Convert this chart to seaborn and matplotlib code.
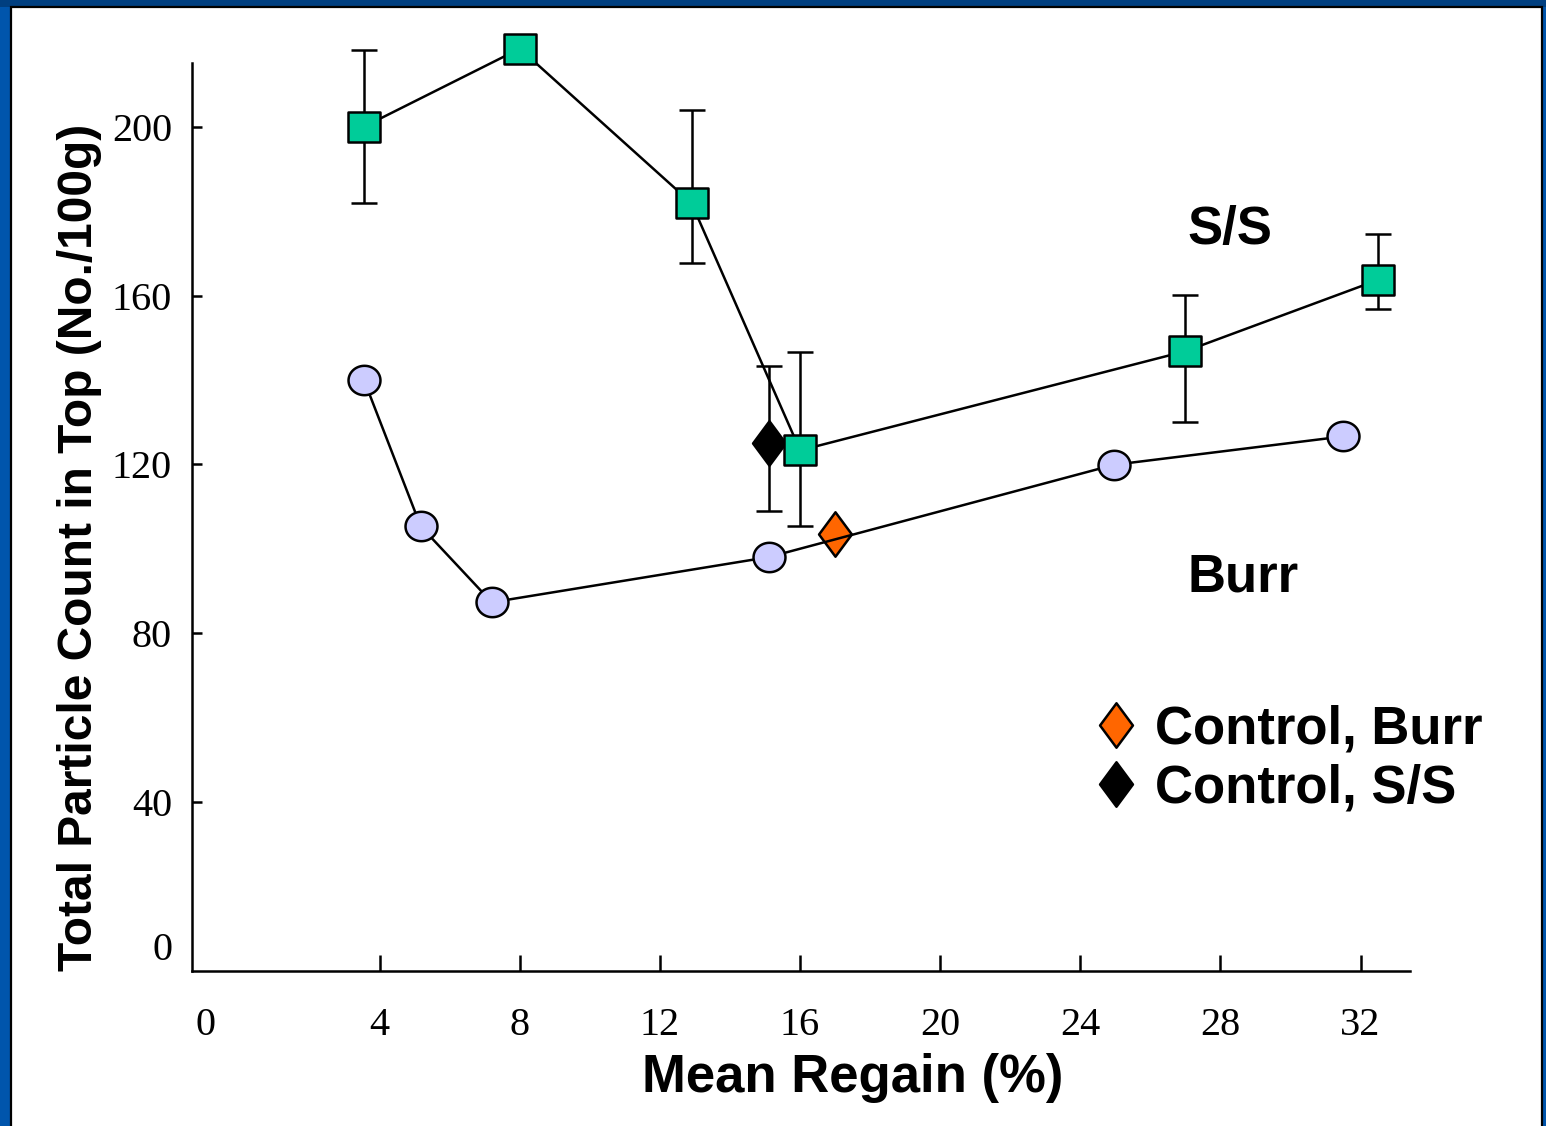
import numpy as np
import pandas as pd
import matplotlib
matplotlib.use("Agg")
import matplotlib.pyplot as plt
import matplotlib.transforms as mtrans
from matplotlib.path import Path
from matplotlib.patches import Rectangle
import seaborn as sns

# ---------------- data ----------------
ss_x = [3.55, 8.0, 12.9, 16.0, 27.0, 32.5]
ss_y = [200.0, 218.5, 181.9, 123.3, 146.8, 163.7]
ss_hi = [218.2, np.nan, 203.9, 146.6, 160.2, 174.6]
ss_lo = [181.9, np.nan, 167.6, 105.5, 130.0, 156.8]

burr_x = [3.55, 5.17, 7.2, 15.1, 24.97, 31.5]
burr_y = [140.0, 105.3, 87.3, 98.0, 119.9, 126.6]

ctrl_labels = ["Control, Burr", "Control, S/S"]
ctrl_x = [17.0, 15.1]
ctrl_y = [103.6, 125.0]
ctrl_hi = [np.nan, 143.4]
ctrl_lo = [np.nan, 109.0]
ctrl_colors = ["#FF6600", "#000000"]

x_ticks = [0, 4, 8, 12, 16, 20, 24, 28, 32]
y_ticks = [0, 40, 80, 120, 160, 200]

series_labels = ["S/S", "Burr"]

# ---------------- styling ----------------
sns.set_theme(style="white")
plt.rcParams["font.family"] = ["Liberation Sans", "DejaVu Sans"]
plt.rcParams["text.color"] = "black"

SQ_COLOR = "#00CC99"
CIRCLE_COLOR = "#CCCCFF"
LW = 1.8

t = np.linspace(0, 2 * np.pi, 73)
ell = np.column_stack([0.5 * np.cos(t), 0.46 * np.sin(t)])
ellipse_marker = Path(np.vstack([ell, ell[:1]]), closed=True)
rect_v = np.array([[-0.5, -0.45], [0.5, -0.45], [0.5, 0.45], [-0.5, 0.45], [-0.5, -0.45]])
rect_marker = Path(rect_v, closed=True)
dia_v = np.array([[0, 0.5], [0.37, 0], [0, -0.5], [-0.37, 0], [0, 0.5]])
diamond_marker = Path(dia_v, closed=True)

W, H = 1546, 1126
fig = plt.figure(figsize=(W / 100, H / 100), dpi=100)
fig.patch.set_facecolor("#0055AC")
fig.add_artist(Rectangle((0, 1119 / H), 1, 7 / H, transform=fig.transFigure,
                         facecolor="#003F80", edgecolor="none", zorder=-2))
fig.add_artist(Rectangle((11 / W, -0.01), (1542 - 11) / W, 1119 / H + 0.01,
                         transform=fig.transFigure, facecolor="white",
                         edgecolor="black", linewidth=1.6, zorder=-1))

ax_left, ax_right = 191.5, 1410.0
ax_top, ax_bot = 63.0, 970.7
ax = fig.add_axes([ax_left / W, (H - ax_bot) / H, (ax_right - ax_left) / W,
                   (ax_bot - ax_top) / H])
ax.set_facecolor("none")

# ---------------- error bars ----------------
ss_df = pd.DataFrame({"x": ss_x, "y": ss_y, "hi": ss_hi, "lo": ss_lo})
eb = ss_df.dropna()
ax.errorbar(eb["x"], eb["y"], yerr=[eb["y"] - eb["lo"], eb["hi"] - eb["y"]],
            fmt="none", ecolor="black", elinewidth=LW, capsize=9.7, capthick=LW,
            zorder=1.5, clip_on=False)

ctrl_df = pd.DataFrame({"label": ctrl_labels, "x": ctrl_x, "y": ctrl_y,
                        "hi": ctrl_hi, "lo": ctrl_lo, "color": ctrl_colors})
ceb = ctrl_df.dropna()
ax.errorbar(ceb["x"], ceb["y"], yerr=[ceb["y"] - ceb["lo"], ceb["hi"] - ceb["y"]],
            fmt="none", ecolor="black", elinewidth=LW, capsize=9.7, capthick=LW,
            zorder=1.5)

# ---------------- control points ----------------
handles = []
for _, r in ctrl_df.iterrows():
    h, = ax.plot([r["x"]], [r["y"]], linestyle="none", marker=diamond_marker,
                 markersize=32, markerfacecolor=r["color"], markeredgecolor="black",
                 markeredgewidth=LW, zorder=1.9, label=r["label"])
    handles.append(h)

# ---------------- series ----------------
sns.lineplot(x=ss_x, y=ss_y, ax=ax, color="black", linewidth=LW,
             marker=rect_marker, markersize=23.5, markerfacecolor=SQ_COLOR,
             markeredgecolor="black", markeredgewidth=LW, errorbar=None,
             clip_on=False, zorder=3)
sns.lineplot(x=burr_x, y=burr_y, ax=ax, color="black", linewidth=LW,
             marker=ellipse_marker, markersize=23, markerfacecolor=CIRCLE_COLOR,
             markeredgecolor="black", markeredgewidth=LW, errorbar=None, zorder=3)

# ---------------- axes ----------------
ax.set_xlim(-1.373, 33.41)
ax.set_ylim(0.7, 215.1)
ax.set_xticks(x_ticks)
ax.set_xticklabels([str(v) for v in x_ticks])
ax.set_yticks(y_ticks)
ax.set_yticklabels([str(v) for v in y_ticks])
for s in ["top", "right"]:
    ax.spines[s].set_visible(False)
for s in ["left", "bottom"]:
    ax.spines[s].set_color("black")
    ax.spines[s].set_linewidth(LW)
ax.tick_params(axis="x", which="major", bottom=True, top=False, direction="in",
               length=11.5, width=LW, color="black", pad=26, labelsize=29,
               labelcolor="black", labelfontfamily="Liberation Serif")
ax.tick_params(axis="y", which="major", left=True, right=False, direction="in",
               length=7.5, width=LW, color="black", pad=14, labelsize=29,
               labelcolor="black", labelfontfamily="Liberation Serif")
ax.xaxis.get_major_ticks()[0].tick1line.set_visible(False)
ax.yaxis.get_major_ticks()[0].tick1line.set_visible(False)

ax.set_xlabel("Mean Regain (%)", fontsize=38, fontweight="bold", color="black")
ax.xaxis.label.set_va("baseline")
ax.xaxis.set_label_coords(0.5429, -0.1336)
ax.set_ylabel("Total Particle Count in Top (No./100g)", fontsize=34.5,
              fontweight="bold", color="black")
ax.yaxis.label.set_va("baseline")
ax.yaxis.set_label_coords(-0.0817, 0.4662)

ax.text(27.05, 172.1, series_labels[0], fontsize=38, fontweight="bold",
        ha="left", va="baseline", color="black")
ax.text(27.05, 89.9, series_labels[1], fontsize=38, fontweight="bold",
        ha="left", va="baseline", color="black")

ax.legend(handles=handles, labels=ctrl_labels, loc="upper left",
          bbox_to_anchor=(1090 / W, (H - 704) / H), bbox_transform=fig.transFigure,
          frameon=False, numpoints=1, handlelength=1.0, handletextpad=0.23,
          borderpad=0, borderaxespad=0, labelspacing=0.18, labelcolor="black",
          prop={"family": "Liberation Sans", "weight": "bold", "size": 38})

# shift the "0" tick labels as in the reference
fig.canvas.draw()
lab0y = ax.yaxis.get_major_ticks()[0].label1
lab0y.set_transform(lab0y.get_transform() +
                    mtrans.ScaledTranslation(0, 25 / 100, fig.dpi_scale_trans))
lab0x = ax.xaxis.get_major_ticks()[0].label1
lab0x.set_transform(lab0x.get_transform() +
                    mtrans.ScaledTranslation(-34 / 100, 0, fig.dpi_scale_trans))

fig.savefig("out.png", dpi=100, facecolor=fig.get_facecolor())
